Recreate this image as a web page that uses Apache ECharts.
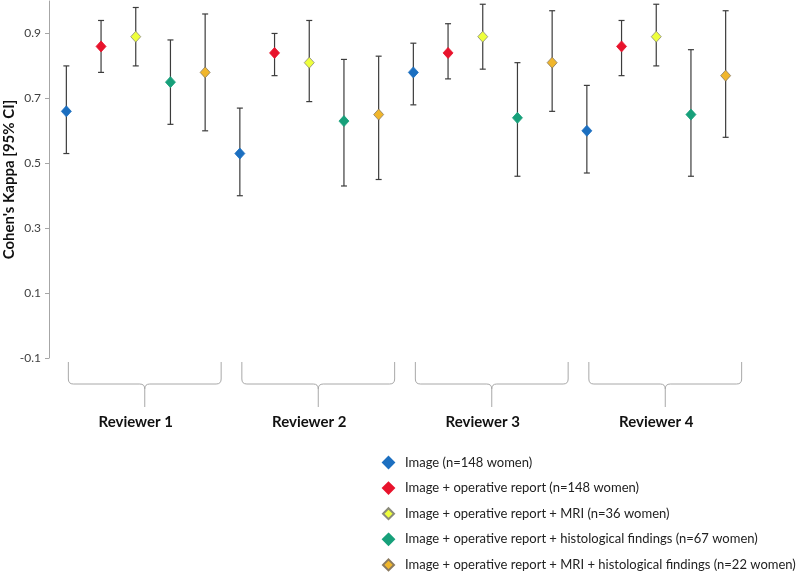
<!DOCTYPE html>
<html>
<head>
<meta charset="utf-8">
<script src="https://cdn.jsdelivr.net/npm/echarts@6/dist/echarts.min.js"></script>
<style>
html,body{margin:0;padding:0;background:#fff;}
#chart{width:800px;height:572px;}
</style>
</head>
<body>
<div id="chart"></div>
<script>
// ---- data ----
const reviewers = ['Reviewer 1', 'Reviewer 2', 'Reviewer 3', 'Reviewer 4'];
const conditions = [
  'Image (n=148 women)',
  'Image + operative report (n=148 women)',
  'Image + operative report + MRI (n=36 women)',
  'Image + operative report + histological findings (n=67 women)',
  'Image + operative report + MRI + histological findings (n=22 women)'
];
// kappa per condition, one value per reviewer
const kappaImage        = [0.66, 0.53, 0.78, 0.60];
const kappaOpReport     = [0.86, 0.84, 0.84, 0.86];
const kappaOpMRI        = [0.89, 0.81, 0.89, 0.89];
const kappaOpHisto      = [0.75, 0.63, 0.64, 0.65];
const kappaOpMRIHisto   = [0.78, 0.65, 0.81, 0.77];
// lower 95% CI
const lowerImage        = [0.53, 0.40, 0.68, 0.47];
const lowerOpReport     = [0.78, 0.77, 0.76, 0.77];
const lowerOpMRI        = [0.80, 0.69, 0.79, 0.80];
const lowerOpHisto      = [0.62, 0.43, 0.46, 0.46];
const lowerOpMRIHisto   = [0.60, 0.45, 0.66, 0.58];
// upper 95% CI
const upperImage        = [0.80, 0.67, 0.87, 0.74];
const upperOpReport     = [0.94, 0.90, 0.93, 0.94];
const upperOpMRI        = [0.98, 0.94, 0.99, 0.99];
const upperOpHisto      = [0.88, 0.82, 0.81, 0.85];
const upperOpMRIHisto   = [0.96, 0.83, 0.97, 0.97];
// y-axis tick labels
const yTicks = [-0.1, 0.1, 0.3, 0.5, 0.7, 0.9];

const kappa = [kappaImage, kappaOpReport, kappaOpMRI, kappaOpHisto, kappaOpMRIHisto];
const lower = [lowerImage, lowerOpReport, lowerOpMRI, lowerOpHisto, lowerOpMRIHisto];
const upper = [upperImage, upperOpReport, upperOpMRI, upperOpHisto, upperOpMRIHisto];

const colors = ['#1c6fc0', '#e8132c', '#eeff3c', '#17a07a', '#f0b62c'];
const borders = ['#1c6fc0', '#e8132c', '#8a8a7a', '#17a07a', '#8a7a60'];

// categories: every reviewer x condition
const categories = [];
reviewers.forEach(r => conditions.forEach(c => categories.push(r + ' | ' + c)));
const nC = conditions.length;

const FONT = 'Lato, "Open Sans", sans-serif';

const series = [];
// error bars
const errData = [];
conditions.forEach((c, ci) => reviewers.forEach((r, gi) => {
  errData.push([gi * nC + ci, lower[ci][gi], upper[ci][gi]]);
}));
series.push({
  type: 'custom',
  name: 'CI',
  z: 1,
  silent: true,
  data: errData,
  encode: { x: 0, y: [1, 2] },
  renderItem: function (params, api) {
    const lo = api.coord([api.value(0), api.value(1)]);
    const hi = api.coord([api.value(0), api.value(2)]);
    const w = 3;
    const style = { stroke: '#3c3c3c', lineWidth: 1.2 };
    return {
      type: 'group',
      children: [
        { type: 'line', shape: { x1: lo[0], y1: lo[1], x2: hi[0], y2: hi[1] }, style: style },
        { type: 'line', shape: { x1: lo[0] - w, y1: lo[1], x2: lo[0] + w, y2: lo[1] }, style: style },
        { type: 'line', shape: { x1: hi[0] - w, y1: hi[1], x2: hi[0] + w, y2: hi[1] }, style: style }
      ]
    };
  }
});
// points
conditions.forEach((c, ci) => {
  series.push({
    type: 'scatter',
    name: c,
    z: 3,
    symbol: 'diamond',
    symbolSize: [10, 11],
    itemStyle: { color: colors[ci], borderColor: borders[ci], borderWidth: 0.8, opacity: 1 },
    data: reviewers.map((r, gi) => [gi * nC + ci, kappa[ci][gi]])
  });
});
// reviewer braces + labels
series.push({
  type: 'custom',
  name: 'braces',
  silent: true,
  z: 1,
  clip: false,
  data: reviewers.map((r, gi) => [gi * nC, gi * nC + nC - 1, gi * nC + Math.floor(nC / 2)]),
  renderItem: function (params, api) {
    const y0 = api.coord([0, -0.1])[1];
    const a = api.coord([api.value(0), -0.1])[0] + 2;
    const b = api.coord([api.value(1), -0.1])[0] + 16;
    const m = (a + b) / 2;
    const lab = api.coord([api.value(2), -0.1])[0];
    const top = y0 + 4, mid = y0 + 26, bot = y0 + 49;
    const r = 5;
    const path = 'M' + a + ' ' + top +
      ' L' + a + ' ' + (mid - r) +
      ' Q' + a + ' ' + mid + ' ' + (a + r) + ' ' + mid +
      ' L' + (m - r) + ' ' + mid +
      ' Q' + m + ' ' + mid + ' ' + m + ' ' + (mid + r) +
      ' L' + m + ' ' + bot +
      ' M' + m + ' ' + (mid + r) +
      ' Q' + m + ' ' + mid + ' ' + (m + r) + ' ' + mid +
      ' L' + (b - r) + ' ' + mid +
      ' Q' + b + ' ' + mid + ' ' + b + ' ' + (mid - r) +
      ' L' + b + ' ' + top;
    return {
      type: 'group',
      children: [
        { type: 'path', shape: { pathData: path }, style: { stroke: '#a8a8a8', lineWidth: 1, fill: null } },
        { type: 'text', x: lab, y: y0 + 64, style: {
            text: reviewers[params.dataIndex], fontFamily: FONT, fontSize: 15, fontWeight: 'bold',
            fill: '#111', align: 'center', verticalAlign: 'middle' } }
      ]
    };
  }
});

const chart = echarts.init(document.getElementById('chart'), null, { renderer: 'canvas' });
chart.setOption({
  backgroundColor: '#ffffff',
  animation: false,
  textStyle: { fontFamily: FONT },
  grid: { left: 49, right: 57, top: 1, bottom: 214, containLabel: false, outerBoundsMode: 'none' },
  legend: {
    data: conditions,
    orient: 'vertical',
    left: 382,
    top: 456,
    height: 140,
    padding: 0,
    itemWidth: 11,
    itemHeight: 11,
    itemGap: 12.6,
    icon: 'diamond',
    selectedMode: false,
    textStyle: { fontFamily: FONT, fontSize: 13, color: '#222', padding: [0, 0, 0, 6], lineHeight: 13 }
  },
  xAxis: {
    type: 'category',
    data: categories,
    boundaryGap: true,
    show: false
  },
  yAxis: {
    type: 'value',
    min: -0.1,
    max: 1.0,
    name: "Cohen's Kappa [95% CI]",
    nameLocation: 'middle',
    nameGap: 32,
    nameMoveOverlap: false,
    nameTextStyle: { fontFamily: FONT, fontSize: 15, fontWeight: 'bold', color: '#111' },
    axisLine: { show: true, lineStyle: { color: '#a6a6a6', width: 1 } },
    axisTick: { show: true, length: 4, inside: false, customValues: yTicks, lineStyle: { color: '#a6a6a6' } },
    axisLabel: { customValues: yTicks, fontFamily: FONT, fontSize: 12, color: '#404040', margin: 8,
      formatter: v => v.toFixed(1) },
    splitLine: { show: false }
  },
  series: series
});
</script>
</body>
</html>
